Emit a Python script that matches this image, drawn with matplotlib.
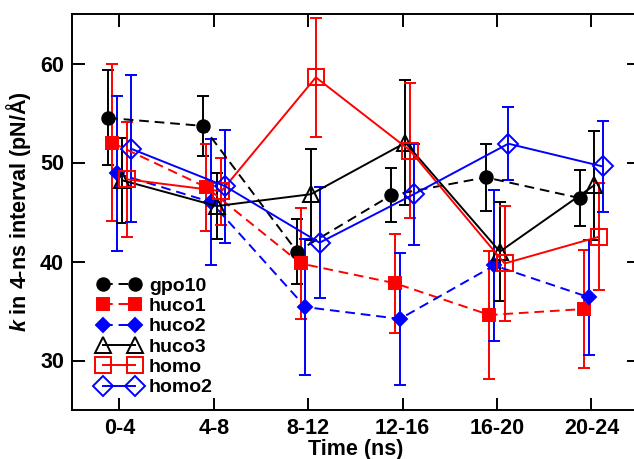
import matplotlib
matplotlib.use('Agg')
import matplotlib.pyplot as plt
from matplotlib.lines import Line2D
import numpy as np

plt.rcParams['font.family'] = ['Liberation Sans', 'DejaVu Sans']
plt.rcParams['mathtext.fontset'] = 'custom'
plt.rcParams['mathtext.it'] = 'Liberation Sans:italic:bold'
plt.rcParams['mathtext.rm'] = 'Liberation Sans:bold'

# Data
intervals = ['0-4', '4-8', '8-12', '12-16', '16-20', '20-24']

gpo10 = [54.5, 53.7, 41.0, 46.7, 48.5, 46.4]
gpo10_err = [4.8, 3.0, 3.3, 2.7, 3.4, 2.8]

huco1 = [52.0, 47.5, 39.8, 37.8, 34.6, 35.2]
huco1_err = [7.9, 4.4, 5.6, 5.0, 6.5, 6.0]

huco2 = [48.9, 46.0, 35.4, 34.2, 39.6, 36.4]
huco2_err = [7.8, 6.4, 6.9, 6.7, 7.6, 5.8]

huco3 = [48.2, 45.6, 46.8, 52.0, 41.0, 47.7]
huco3_err = [4.3, 3.3, 4.6, 6.3, 5.0, 5.5]

homo = [48.3, 47.1, 58.6, 51.2, 39.8, 42.5]
homo_err = [5.8, 3.4, 6.0, 6.8, 5.8, 5.4]

homo2 = [51.4, 47.6, 41.9, 46.8, 51.9, 49.6]
homo2_err = [7.4, 5.7, 5.6, 5.1, 3.7, 4.6]

series = [
    ('gpo10', gpo10, gpo10_err, -0.12, 'black', '--', 'o', 9, True),
    ('huco1', huco1, huco1_err, -0.08, 'red', '--', 's', 8, True),
    ('huco2', huco2, huco2_err, -0.03, 'blue', '--', 'D', 7, True),
    ('huco3', huco3, huco3_err, 0.03, 'black', '-', '^', 11, False),
    ('homo', homo, homo_err, 0.08, 'red', '-', 's', 11, False),
    ('homo2', homo2, homo2_err, 0.12, 'blue', '-', 'D', 10, False),
]

fig = plt.figure(figsize=(6.34, 4.59), dpi=100)
ax = fig.add_axes([72.3/634, 49/459, (638.6-72.3)/634, (410-14)/459])

x = np.arange(len(intervals))
handles = []
for name, vals, err, off, col, ls, mk, ms, filled in series:
    style = dict(color=col, ls=ls, lw=1.4, marker=mk, ms=ms,
                 mfc=col if filled else 'none', mec=col, mew=1.4)
    if ls == '--':
        style['dashes'] = (5, 3)
    ax.errorbar(x + off, vals, yerr=err, ecolor=col, elinewidth=1.4,
                capsize=4.5, capthick=1.4, **style)
    handles.append(Line2D([], [], label=name, **style))

ax.set_xlim(-0.5, 5.5)
ax.set_ylim(25, 65)
ax.set_xticks(x)
ax.set_xticklabels(intervals)
ax.set_yticks([30, 40, 50, 60])
ax.tick_params(direction='in', length=9, width=1.4, labelsize=15.5,
               top=True, right=True, pad=6)
for lab in ax.get_xticklabels() + ax.get_yticklabels():
    lab.set_fontweight('bold')
for sp in ax.spines.values():
    sp.set_linewidth(1.4)

ax.set_xlabel('Time (ns)', fontsize=15.5, fontweight='bold', labelpad=0)
ax.set_ylabel(r'$k$ in 4-ns interval (pN/Å)', fontsize=15.5, fontweight='bold', labelpad=5)

ax.legend(handles=handles, loc='upper left', bbox_to_anchor=(0.02, 0.37), frameon=False,
          numpoints=2, handlelength=2.25, handletextpad=0.4,
          labelspacing=0.14, borderaxespad=0.3,
          prop={'weight': 'bold', 'size': 14})

fig.savefig('out.png', dpi=100)
